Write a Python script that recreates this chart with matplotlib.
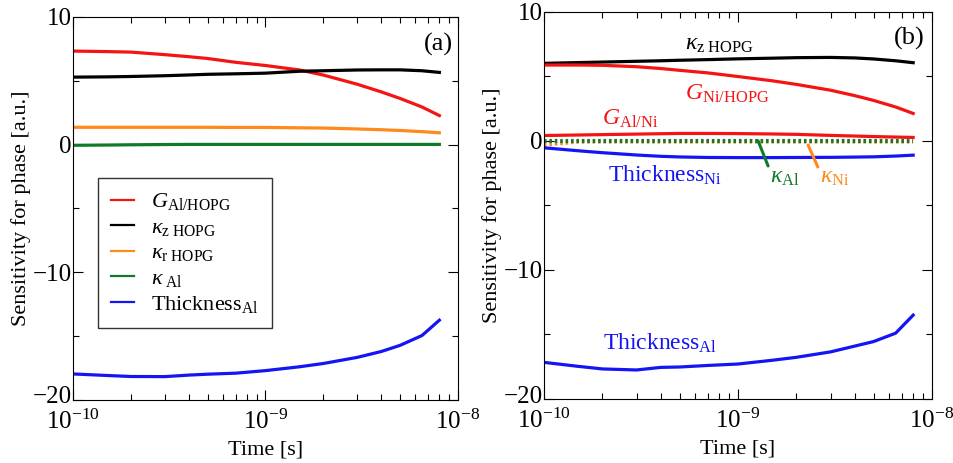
import matplotlib
matplotlib.use("Agg")
import matplotlib.pyplot as plt
from matplotlib.ticker import FixedLocator, LogFormatterSciNotation, MultipleLocator, NullFormatter
from matplotlib.transforms import ScaledTranslation

plt.rcParams['font.family'] = ['Liberation Serif', 'DejaVu Serif']
plt.rcParams['mathtext.fontset'] = 'custom'
plt.rcParams['mathtext.rm'] = 'Liberation Serif'
plt.rcParams['mathtext.it'] = 'Liberation Serif:italic'
plt.rcParams['mathtext.bf'] = 'Liberation Serif:bold'
plt.rcParams['font.size'] = 16

# time grid [s] shared by all curves
t = [1.0e-10, 1.5e-10, 2.0e-10, 3.0e-10, 4.0e-10, 5.0e-10, 7.0e-10, 1.0e-9,
     1.5e-9, 2.0e-9, 3.0e-9, 4.0e-9, 5.0e-9, 6.5e-9, 8.0e-9]
x_major = [1e-10, 1e-9, 1e-8]
x_minor = [m * d for d in (1e-10, 1e-9) for m in range(2, 10)]

# panel (a): Al on HOPG
G_al_hopg = [7.33, 7.29, 7.25, 7.05, 6.89, 6.75, 6.45, 6.20, 5.85, 5.45, 4.73, 4.13, 3.62, 2.95, 2.28]
kz_hopg_a = [5.29, 5.31, 5.34, 5.40, 5.46, 5.51, 5.55, 5.60, 5.75, 5.79, 5.85, 5.86, 5.86, 5.79, 5.66]
kr_hopg_a = [1.36, 1.36, 1.36, 1.36, 1.36, 1.36, 1.35, 1.35, 1.32, 1.30, 1.23, 1.17, 1.11, 1.02, 0.93]
k_al_a = [-0.05, -0.03, -0.01, 0.01, 0.02, 0.02, 0.02, 0.02, 0.02, 0.02, 0.02, 0.02, 0.02, 0.02, 0.02]
thick_al_a = [-17.96, -18.08, -18.16, -18.17, -18.05, -17.98, -17.90, -17.70, -17.40, -17.14,
              -16.66, -16.20, -15.72, -14.95, -13.75]

# panel (b): Al on Ni on HOPG
kz_hopg_b = [6.00, 6.06, 6.10, 6.16, 6.20, 6.24, 6.29, 6.35, 6.40, 6.44, 6.46, 6.42, 6.34, 6.20, 6.05]
G_ni_hopg = [5.87, 5.87, 5.85, 5.74, 5.60, 5.46, 5.26, 4.98, 4.65, 4.37, 3.92, 3.50, 3.13, 2.62, 2.12]
G_al_ni = [0.41, 0.45, 0.48, 0.52, 0.55, 0.57, 0.57, 0.56, 0.53, 0.50, 0.42, 0.37, 0.33, 0.29, 0.26]
k_al_b = [0.0] * 15
k_ni_b = [-0.30, -0.06, -0.05, -0.05, -0.05, -0.05, -0.05, -0.05, -0.05, -0.05, -0.05, -0.05, -0.05, -0.05, -0.05]
thick_ni = [-0.54, -0.77, -0.92, -1.10, -1.20, -1.25, -1.29, -1.30, -1.30, -1.29, -1.28, -1.26, -1.24, -1.18, -1.11]
thick_al_b = [-17.16, -17.47, -17.67, -17.75, -17.55, -17.52, -17.40, -17.29, -17.00, -16.77,
              -16.35, -15.90, -15.55, -14.90, -13.50]

RED = '#f41414'
ORANGE = '#ff8a1c'
GREEN = '#12792a'
BLUE = '#1414f4'
LW = 2.3

fig = plt.figure(figsize=(9.54, 4.63), dpi=100)
axa = fig.add_axes([0.0765, 0.1361, 0.4036, 0.8272])
axb = fig.add_axes([0.5702, 0.1382, 0.4067, 0.8365])


def style(ax):
    ax.set_xscale('log')
    ax.set_xlim(1e-10, 1e-8)
    ax.set_ylim(-20, 10)
    ax.yaxis.set_major_locator(MultipleLocator(10))
    ax.yaxis.set_minor_locator(MultipleLocator(5))
    ax.xaxis.set_major_locator(FixedLocator(x_major))
    ax.xaxis.set_major_formatter(LogFormatterSciNotation())
    ax.xaxis.set_minor_locator(FixedLocator(x_minor))
    ax.xaxis.set_minor_formatter(NullFormatter())
    ax.tick_params(which='both', direction='in', top=True, right=True, labelsize=18)
    ax.tick_params(which='major', length=7, width=0.8)
    ax.tick_params(which='minor', length=4, width=0.8)
    ax.tick_params(axis='x', pad=7)
    ax.tick_params(axis='y', pad=1)
    ax.set_xlabel('Time [s]', fontsize=16, labelpad=4.5)
    ax.set_ylabel('Sensitivity for phase [a.u.]', fontsize=16, labelpad=1)


# (a)
axa.plot(t, G_al_hopg, color=RED, lw=LW, label=r'$G_{\rm Al/HOPG}$')
axa.plot(t, kz_hopg_a, color='black', lw=LW, label=r'$\kappa_{\rm z\ HOPG}$')
axa.plot(t, kr_hopg_a, color=ORANGE, lw=LW, label=r'$\kappa_{\rm r\ HOPG}$')
axa.plot(t, k_al_a, color=GREEN, lw=LW, label=r'$\kappa_{\ \rm Al}$')
axa.plot(t, thick_al_a, color=BLUE, lw=LW, label=r'Thickness$_{\rm Al}$')
style(axa)
leg = axa.legend(loc='lower left', bbox_to_anchor=(0.065, 0.188), fontsize=16,
                 fancybox=False, edgecolor='#333333', framealpha=1,
                 handlelength=1.0, handletextpad=0.8, labelspacing=0.22,
                 borderpad=0.6, borderaxespad=0)
leg.get_frame().set_linewidth(1.0)
for ln in leg.get_lines():
    ln.set_linewidth(1.6)
axa.text(0.987, 0.958, '(a)', transform=axa.transAxes, ha='right', va='top', fontsize=19)

# (b)
axb.plot(t, kz_hopg_b, color='black', lw=LW)
axb.plot(t, G_ni_hopg, color=RED, lw=LW)
axb.plot(t, G_al_ni, color=RED, lw=LW)
axb.plot(t, k_ni_b, color=ORANGE, lw=3.0, linestyle=(0, (0.6, 0.7)))
axb.plot(t, k_al_b, color=GREEN, lw=3.0, linestyle=(0, (0.6, 0.7)))
axb.plot(t, thick_ni, color=BLUE, lw=LW)
axb.plot(t, thick_al_b, color=BLUE, lw=LW)
style(axb)

axb.text(5.33e-10, 7.03, r'$\kappa_{\rm z\ HOPG}$', color='black', fontsize=17)
axb.text(5.33e-10, 3.16, r'$G_{\rm Ni/HOPG}$', color=RED, fontsize=17)
axb.text(1.98e-10, 1.22, r'$G_{\rm Al/Ni}$', color=RED, fontsize=17)
axb.text(2.14e-10, -3.17, r'Thickness$_{\rm Ni}$', color=BLUE, fontsize=17)
axb.text(2.01e-10, -16.15, r'Thickness$_{\rm Al}$', color=BLUE, fontsize=17)
axb.text(1.46e-9, -3.28, r'$\kappa_{\rm Al}$', color=GREEN, fontsize=17)
axb.text(2.65e-9, -3.28, r'$\kappa_{\rm Ni}$', color=ORANGE, fontsize=17)
axb.annotate('', xy=(1.27e-9, 0.0), xytext=(1.43e-9, -1.95),
             arrowprops=dict(arrowstyle='-', color=GREEN, lw=2.2, shrinkA=0, shrinkB=0))
axb.annotate('', xy=(2.3e-9, -0.33), xytext=(2.58e-9, -2.03),
             arrowprops=dict(arrowstyle='-', color=ORANGE, lw=2.2, shrinkA=0, shrinkB=0))
axb.text(0.982, 0.96, '(b)', transform=axb.transAxes, ha='right', va='top', fontsize=19)

# lift the bottom y label a little so it clears the x tick labels
fig.canvas.draw()
lift = ScaledTranslation(0, 5 / 100, fig.dpi_scale_trans)
for ax in (axa, axb):
    for lab in ax.get_yticklabels():
        if lab.get_position()[1] == -20:
            lab.set_transform(lab.get_transform() + lift)

fig.savefig('out.png', dpi=100)
